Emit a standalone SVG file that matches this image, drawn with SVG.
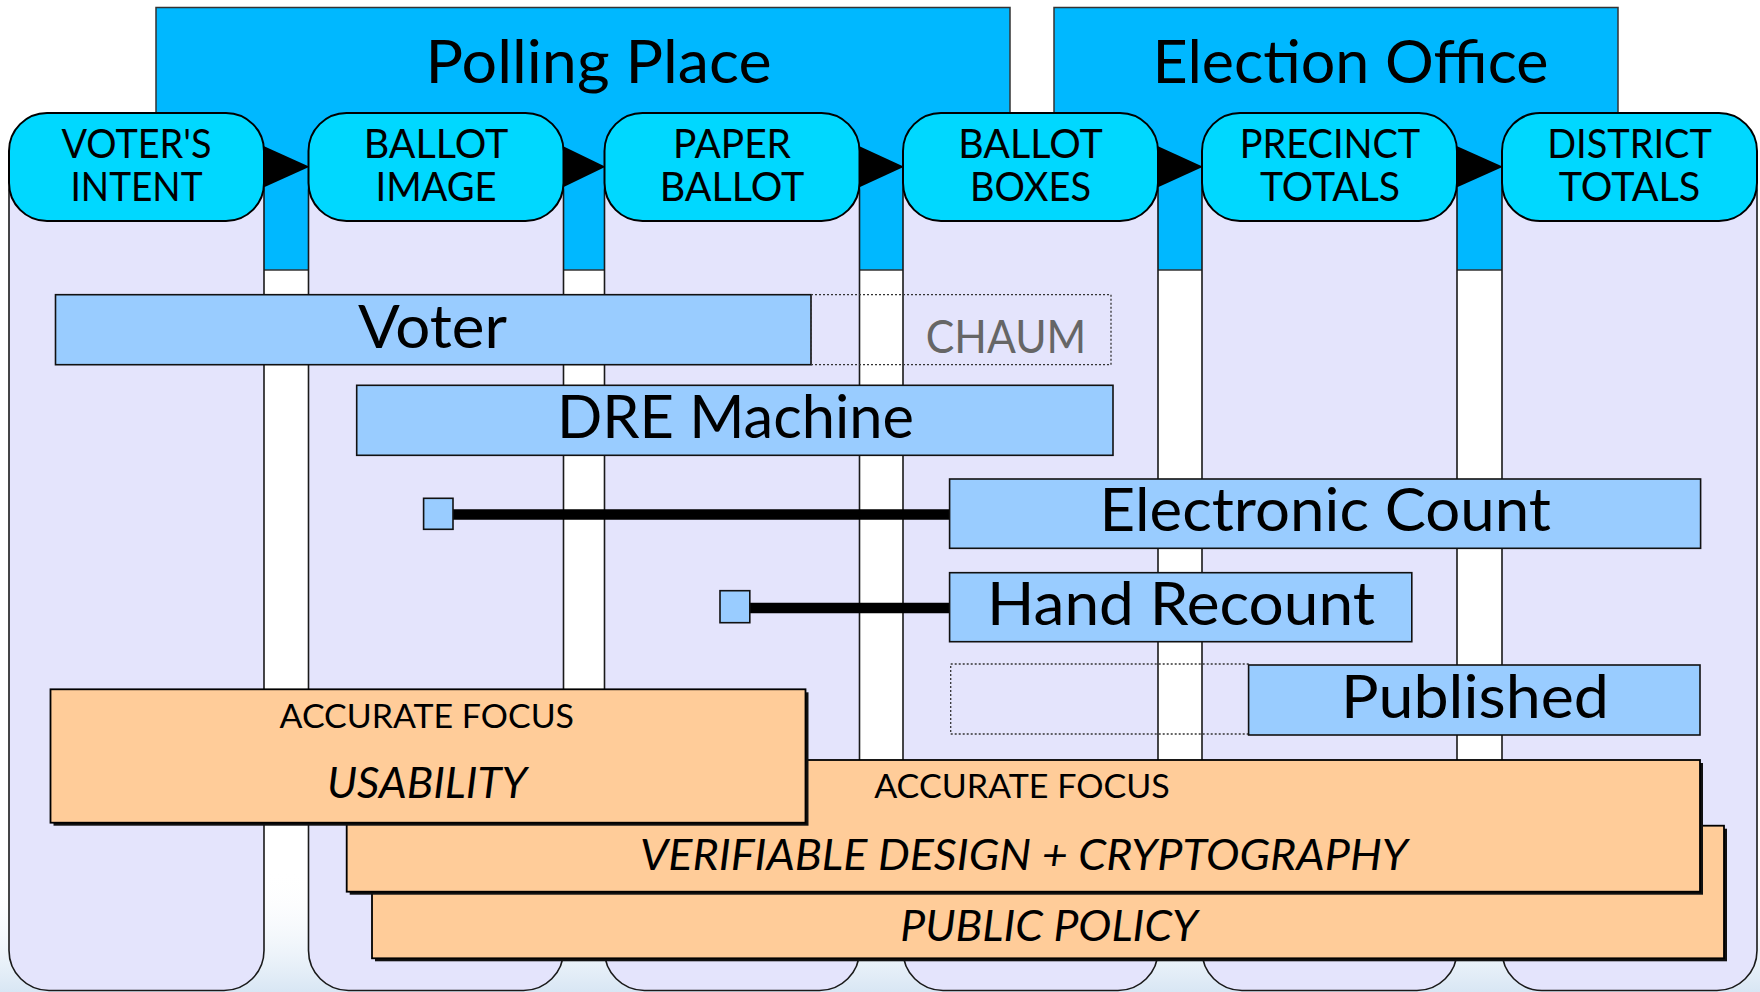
<svg xmlns="http://www.w3.org/2000/svg" width="1760" height="992" viewBox="0 0 1760 992">
<defs>
<linearGradient id="bg" x1="0" y1="0" x2="0" y2="1">
<stop offset="0" stop-color="#ffffff" stop-opacity="0"/>
<stop offset="1" stop-color="#d8e6f4"/>
</linearGradient>
<style>
.hdr{fill:#00B8FF;stroke:#333;stroke-width:1.5}
.body{fill:#E4E4FC;stroke:#1a1a1a;stroke-width:1.6}
.pill{fill:#00D8FF;stroke:#000;stroke-width:2}
.arrow{fill:#000}
.bar{fill:#99CCFF;stroke:#111;stroke-width:1.6}
.dot{fill:none;stroke:#333;stroke-width:1.3;stroke-dasharray:2 2}
.org{fill:#FFCC99;stroke:#000;stroke-width:1.8}
.shd{fill:#111}
.conn{stroke:#000;stroke-width:10.5;fill:none}
text{font-family:Lato,"Open Sans","Liberation Sans",sans-serif;fill:#000;text-anchor:middle}
.big{font-size:60px}
.pt{font-size:40px}
.bt{font-size:60px}
.ch{font-size:46px;fill:#666}
.af{font-size:33px}
.it{font-size:42px;font-style:italic}
</style>
</defs>
<rect x="0" y="0" width="1760" height="992" fill="#ffffff"/>
<rect x="0" y="870" width="1760" height="122" fill="url(#bg)"/>

<g id="polling-place">
<rect class="hdr" x="156" y="7.5" width="854" height="262.5"/>
<text class="big" x="598.6" y="82.7" textLength="346" lengthAdjust="spacingAndGlyphs">Polling Place</text>
</g>
<g id="election-office">
<rect class="hdr" x="1054" y="7.5" width="564" height="262.5"/>
<text class="big" x="1350.5" y="82.7" textLength="396" lengthAdjust="spacingAndGlyphs">Election Office</text>
</g>

<g id="col-bodies">
<rect class="body" x="9" y="150" width="255" height="840.5" rx="40"/>
<rect class="body" x="308.5" y="150" width="255" height="840.5" rx="40"/>
<rect class="body" x="604.5" y="150" width="255" height="840.5" rx="40"/>
<rect class="body" x="903" y="150" width="255" height="840.5" rx="40"/>
<rect class="body" x="1202" y="150" width="255" height="840.5" rx="40"/>
<rect class="body" x="1502" y="150" width="255" height="840.5" rx="40"/>
</g>

<g id="connectors">
<polygon class="arrow" points="258,143.5 258,190 309.5,166.7"/>
<polygon class="arrow" points="557.5,143.5 557.5,190 605.5,166.7"/>
<polygon class="arrow" points="853.5,143.5 853.5,190 904,166.7"/>
<polygon class="arrow" points="1152,143.5 1152,190 1203,166.7"/>
<polygon class="arrow" points="1451,143.5 1451,190 1503,166.7"/>
<line class="conn" x1="452" y1="514.5" x2="950" y2="514.5"/>
<line class="conn" x1="749" y1="608" x2="950" y2="608"/>
</g>

<g id="voters-intent">
<rect class="pill" x="9" y="113" width="255" height="108" rx="38"/>
<text class="pt" x="136.5" y="158" textLength="150" lengthAdjust="spacingAndGlyphs">VOTER'S</text>
<text class="pt" x="136.5" y="200.7" textLength="132" lengthAdjust="spacingAndGlyphs">INTENT</text>
</g>
<g id="ballot-image">
<rect class="pill" x="308.5" y="113" width="255" height="108" rx="38"/>
<text class="pt" x="436" y="158" textLength="144.6" lengthAdjust="spacingAndGlyphs">BALLOT</text>
<text class="pt" x="436" y="200.7" textLength="121" lengthAdjust="spacingAndGlyphs">IMAGE</text>
</g>
<g id="paper-ballot">
<rect class="pill" x="604.5" y="113" width="255" height="108" rx="38"/>
<text class="pt" x="732" y="158" textLength="118" lengthAdjust="spacingAndGlyphs">PAPER</text>
<text class="pt" x="732" y="200.7" textLength="144.6" lengthAdjust="spacingAndGlyphs">BALLOT</text>
</g>
<g id="ballot-boxes">
<rect class="pill" x="903" y="113" width="255" height="108" rx="38"/>
<text class="pt" x="1030.5" y="158" textLength="144.4" lengthAdjust="spacingAndGlyphs">BALLOT</text>
<text class="pt" x="1030.5" y="200.7" textLength="121" lengthAdjust="spacingAndGlyphs">BOXES</text>
</g>
<g id="precinct-totals">
<rect class="pill" x="1202" y="113" width="255" height="108" rx="38"/>
<text class="pt" x="1330" y="158" textLength="180.6" lengthAdjust="spacingAndGlyphs">PRECINCT</text>
<text class="pt" x="1330" y="200.7" textLength="140" lengthAdjust="spacingAndGlyphs">TOTALS</text>
</g>
<g id="district-totals">
<rect class="pill" x="1502" y="113" width="255" height="108" rx="38"/>
<text class="pt" x="1629.5" y="158" textLength="164.6" lengthAdjust="spacingAndGlyphs">DISTRICT</text>
<text class="pt" x="1629.5" y="200.7" textLength="141.6" lengthAdjust="spacingAndGlyphs">TOTALS</text>
</g>

<g id="voter">
<rect class="bar" x="55.5" y="294.7" width="755.5" height="70"/>
<text class="bt" x="432.5" y="348.3" textLength="149" lengthAdjust="spacingAndGlyphs">Voter</text>
</g>
<g id="chaum">
<rect class="dot" x="811" y="294.7" width="300" height="70"/>
<text class="ch" x="1006" y="353.3" textLength="160.5" lengthAdjust="spacingAndGlyphs">CHAUM</text>
</g>
<g id="dre-machine">
<rect class="bar" x="356.7" y="385.3" width="756.3" height="70"/>
<text class="bt" x="735.4" y="438.3" textLength="357" lengthAdjust="spacingAndGlyphs">DRE Machine</text>
</g>
<g id="electronic-count">
<rect class="bar" x="949.6" y="479" width="751" height="69.3"/>
<text class="bt" x="1325.3" y="530.7" textLength="451.4" lengthAdjust="spacingAndGlyphs">Electronic Count</text>
</g>
<g id="hand-recount">
<rect class="bar" x="949.6" y="572.7" width="462.2" height="69"/>
<text class="bt" x="1181" y="625" textLength="388" lengthAdjust="spacingAndGlyphs">Hand Recount</text>
</g>
<g id="square-1">
<rect class="bar" x="423.6" y="498.3" width="29.4" height="31"/>
</g>
<g id="square-2">
<rect class="bar" x="720" y="590.7" width="29.8" height="32"/>
</g>
<g id="published">
<rect class="dot" x="950.7" y="664" width="298" height="70"/>
<rect class="bar" x="1248.6" y="665" width="451.4" height="70"/>
<text class="bt" x="1475" y="718.3" textLength="268" lengthAdjust="spacingAndGlyphs">Published</text>
</g>

<g id="public-policy">
<rect class="shd" x="375" y="828.7" width="1352" height="132.6"/>
<rect class="org" x="372" y="825.7" width="1352" height="132.6"/>
<text class="it" x="1049" y="941" textLength="297.5" lengthAdjust="spacingAndGlyphs">PUBLIC POLICY</text>
</g>
<g id="verifiable-design">
<rect class="shd" x="349.7" y="763" width="1353.3" height="131.7"/>
<rect class="org" x="346.7" y="760" width="1353.3" height="131.7"/>
<text class="af" x="1022" y="798.3" textLength="295.6" lengthAdjust="spacingAndGlyphs">ACCURATE FOCUS</text>
<text class="it" x="1024" y="870" textLength="768" lengthAdjust="spacingAndGlyphs">VERIFIABLE DESIGN  + CRYPTOGRAPHY</text>
</g>
<g id="usability">
<rect class="shd" x="53.5" y="692.3" width="755" height="133.4"/>
<rect class="org" x="50.5" y="689.3" width="755" height="133.4"/>
<text class="af" x="426.8" y="727.7" textLength="294.4" lengthAdjust="spacingAndGlyphs">ACCURATE FOCUS</text>
<text class="it" x="427" y="798.3" textLength="200" lengthAdjust="spacingAndGlyphs">USABILITY</text>
</g>
</svg>
